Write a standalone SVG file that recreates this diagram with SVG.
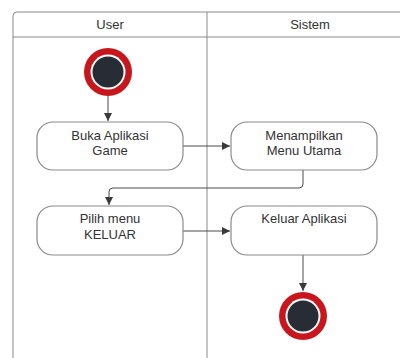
<svg xmlns="http://www.w3.org/2000/svg" width="400" height="358" viewBox="0 0 400 358">
<defs>
<style>
.lane{fill:none;stroke:#8a8a8a;stroke-width:1}
.node{fill:#fff;stroke:#8a8a8a;stroke-width:1.2}
.t{font-family:"Liberation Sans",Arial,sans-serif;font-size:13px;fill:#333;text-anchor:middle}
.edge{fill:none;stroke:#4a4a4a;stroke-width:1}
.ring{fill:#c8161d}
.gap{fill:#fff}
.dot{fill:#282c34}
</style>
<marker id="arr" markerWidth="8" markerHeight="8" refX="8" refY="4" orient="auto" markerUnits="userSpaceOnUse">
<path d="M0,0 L8,4 L0,8 Z" fill="#3a3a3a"/>
</marker>
</defs>
<rect width="400" height="358" fill="#fff"/>
<g id="lanes">
<path class="lane" d="M13,362 L13,16 Q13,12 17,12 L412,12"/>
<line class="lane" x1="13" y1="37" x2="412" y2="37"/>
<line class="lane" x1="207" y1="12" x2="207" y2="362"/>
<text class="t" x="110" y="28.5">User</text>
<text class="t" x="310" y="28.5">Sistem</text>
</g>
<g id="connectors">
<line class="edge" x1="108" y1="96" x2="108" y2="121" marker-end="url(#arr)"/>
<line class="edge" x1="183" y1="146" x2="230" y2="146" marker-end="url(#arr)"/>
<path class="edge" d="M303,170 L303,184 Q303,188 299,188 L113,188 Q109,188 109,192 L109,205" marker-end="url(#arr)"/>
<line class="edge" x1="183" y1="231" x2="230" y2="231" marker-end="url(#arr)"/>
<line class="edge" x1="303" y1="255" x2="303" y2="291" marker-end="url(#arr)"/>
</g>
<g id="start">
<circle class="ring" cx="108" cy="72" r="24"/>
<circle class="gap" cx="108" cy="72" r="17.5"/>
<circle class="dot" cx="108" cy="72" r="15.5"/>
</g>
<g id="buka">
<rect class="node" x="37" y="122" width="146" height="48" rx="16"/>
<text class="t" x="110" y="139.5">Buka Aplikasi</text>
<text class="t" x="110" y="155">Game</text>
</g>
<g id="menampilkan">
<rect class="node" x="231" y="122" width="146" height="48" rx="16"/>
<text class="t" x="304" y="139.5">Menampilkan</text>
<text class="t" x="304" y="155">Menu Utama</text>
</g>
<g id="pilih">
<rect class="node" x="37" y="206" width="146" height="49" rx="16"/>
<text class="t" x="110" y="223">Pilih menu</text>
<text class="t" x="110" y="239">KELUAR</text>
</g>
<g id="keluar">
<rect class="node" x="231" y="206" width="146" height="49" rx="16"/>
<text class="t" x="304" y="223">Keluar Aplikasi</text>
</g>
<g id="end">
<circle class="ring" cx="303" cy="316" r="24"/>
<circle class="gap" cx="303" cy="316" r="17.5"/>
<circle class="dot" cx="303" cy="316" r="15.5"/>
</g>
</svg>
